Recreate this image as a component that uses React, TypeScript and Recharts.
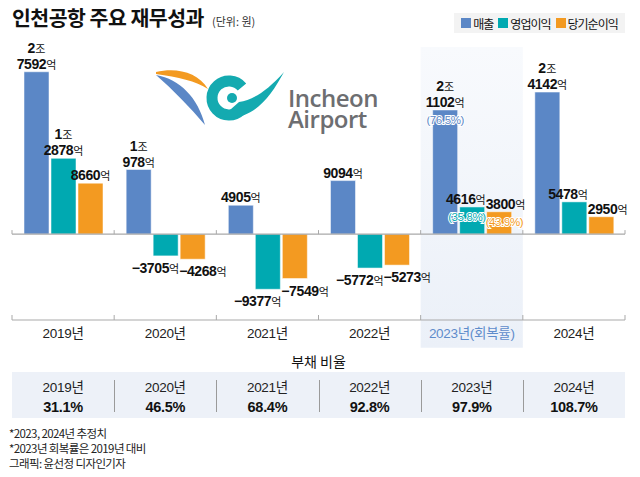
import { BarChart, Bar, XAxis, YAxis, ReferenceLine, ReferenceArea, LabelList } from 'recharts';

// 단위: 억원
const categories = ['2019년', '2020년', '2021년', '2022년', '2023년(회복률)', '2024년'];
const revenue = [27592, 10978, 4905, 9094, 21102, 24142];
const operatingProfit = [12878, -3705, -9377, -5772, 4616, 5478];
const netIncome = [8660, -4268, -7549, -5273, 3800, 2950];
// 2019년 대비 회복률 (%)
const revenueRecovery = [null, null, null, null, 76.5, null];
const operatingRecovery = [null, null, null, null, 35.8, null];
const netRecovery = [null, null, null, null, 43.9, null];

const debtYears = ['2019년', '2020년', '2021년', '2022년', '2023년', '2024년'];
const debtRatio = [31.1, 46.5, 68.4, 92.8, 97.9, 108.7];

const footnotes = ['*2023, 2024년 추정치', '*2023년 회복률은 2019년 대비', '그래픽: 윤선정 디자인기자'];

const SERIES = [
  { key: 'revenue', name: '매출', color: '#5B87C6', rates: revenueRecovery },
  { key: 'operating', name: '영업이익', color: '#00A9B1', rates: operatingRecovery },
  { key: 'net', name: '당기순이익', color: '#F39A21', rates: netRecovery },
];

const data = categories.map((year, i) => ({
  year,
  revenue: revenue[i],
  operating: operatingProfit[i],
  net: netIncome[i],
}));

const Y_MIN = -14600;
const Y_MAX = 30000;
const PLOT_TOP = 57.6;
const PLOT_BOTTOM = 320;
const ZERO_Y = PLOT_TOP + (Y_MAX / (Y_MAX - Y_MIN)) * (PLOT_BOTTOM - PLOT_TOP);

const NUM_FONT = "'Liberation Sans', Arial, 'Noto Sans CJK KR', sans-serif";
const KR_FONT = "'Noto Sans CJK KR', sans-serif";
const AXIS = '#a9a9a9';

// 영업이익/당기순이익 라벨이 겹치면 좌우로 벌린다
function splitLabels(i: number) {
  return Math.abs(operatingProfit[i] - netIncome[i]) < 3500;
}

function renderValueLabel(seriesIdx: number) {
  return (props: any) => {
    const vb = props.viewBox ?? props;
    const x = vb.x ?? props.x;
    const y = vb.y ?? props.y;
    const width = vb.width ?? props.width;
    const height = vb.height ?? props.height;
    const { value, index } = props;
    if (value == null) return null;
    const top = Math.min(y, y + height);
    const bottom = Math.max(y, y + height);
    const s = SERIES[seriesIdx];

    let anchor: 'middle' | 'end' | 'start' = 'middle';
    let tx = x + width / 2;
    if (seriesIdx > 0 && splitLabels(index)) {
      if (seriesIdx === 1) {
        anchor = 'end';
        tx = x + width + 1;
      } else {
        anchor = 'start';
        tx = x - 1;
      }
    }

    const neg = value < 0;
    const abs = Math.abs(value);
    const jo = Math.floor(abs / 10000);
    const eok = abs % 10000;
    const base = neg ? bottom + 17 : top - 3;
    const rate = s.rates[index];

    return (
      <g>
        {jo > 0 && (
          <text x={tx} y={base - 16} textAnchor={anchor} fill="#111">
            <tspan fontFamily={NUM_FONT} fontWeight={700} fontSize={14}>{jo}</tspan>
            <tspan fontFamily={KR_FONT} fontSize={11}>조</tspan>
          </text>
        )}
        <text x={tx} y={base} textAnchor={anchor} fill="#111">
          <tspan fontFamily={NUM_FONT} fontWeight={700} fontSize={14} letterSpacing={-0.4}>
            {neg ? '\u2212' : ''}
            {eok}
          </tspan>
          <tspan fontFamily={KR_FONT} fontSize={11}>억</tspan>
        </text>
        {rate != null && (
          <text
            x={tx}
            y={top + 14}
            textAnchor={anchor}
            fontFamily={NUM_FONT}
            fontSize={11.5}
            fill={s.color}
            stroke="#fff"
            strokeWidth={2}
            paintOrder="stroke"
            letterSpacing={-0.4}
          >
            ({rate}%)
          </text>
        )}
      </g>
    );
  };
}

function YearTick(props: any) {
  const { x, y, payload, index } = props;
  const half = payload?.offset ?? 51.1;
  const left = x - half;
  const right = x + half;
  const last = index === categories.length - 1;
  const highlight = index === 4;
  return (
    <g>
      <line x1={left} x2={left} y1={y - 5} y2={y} stroke={AXIS} />
      <line x1={left} x2={left} y1={ZERO_Y - 4} y2={ZERO_Y} stroke={AXIS} />
      {last && <line x1={right} x2={right} y1={y - 5} y2={y} stroke={AXIS} />}
      {last && <line x1={right} x2={right} y1={ZERO_Y - 4} y2={ZERO_Y} stroke={AXIS} />}
      <text
        x={x}
        y={y + 18}
        textAnchor="middle"
        fontFamily={NUM_FONT}
        fontSize={13.5}
        letterSpacing={-0.3}
        fill={highlight ? '#5F8CCB' : '#222'}
      >
        {payload.value}
      </text>
    </g>
  );
}

function Logo() {
  return (
    <>
      <svg width={150} height={80} style={{ position: 'absolute', left: 140, top: 60 }}>
        <path d="M16,12 C36,7 58,12 68,29 C56,21 38,17 16,14 Z" fill="#F39A21" />
        <path d="M16,15 C40,19 58,38 65,65 C50,47 33,30 16,15 Z" fill="#5B87C6" />
        <path d="M102,27 A17,17 0 1 0 101,50" fill="none" stroke="#14AAB0" strokeWidth={11} />
        <path d="M82,57 C112,62 130,38 144,12 C127,31 113,40 99,42 Z" fill="#14AAB0" />
        <circle cx={92} cy={38} r={5} fill="#14AAB0" />
      </svg>
      <div
        style={{
          position: 'absolute',
          left: 288,
          top: 87,
          fontFamily: "'Open Sans', sans-serif",
          fontWeight: 600,
          fontSize: 24,
          lineHeight: '21px',
          letterSpacing: -0.5,
          color: '#6D6E71',
          whiteSpace: 'pre-line',
        }}
      >
        {'Incheon\nAirport'}
      </div>
    </>
  );
}

export default function App() {
  return (
    <div
      style={{
        position: 'absolute',
        left: 0,
        top: 0,
        width: 640,
        height: 477,
        background: '#fff',
        overflow: 'hidden',
        fontFamily: KR_FONT,
        color: '#111',
      }}
    >
      <div style={{ position: 'absolute', left: 12, top: 3, lineHeight: '28px', whiteSpace: 'nowrap' }}>
        <span style={{ fontSize: 20.5, fontWeight: 700, letterSpacing: -0.5 }}>인천공항 주요 재무성과</span>
        <span style={{ fontSize: 11, marginLeft: 8, color: '#333' }}>(단위: 원)</span>
      </div>

      <div
        style={{
          position: 'absolute',
          left: 454,
          top: 13,
          width: 171,
          height: 20,
          background: '#F3F3F3',
          display: 'flex',
          alignItems: 'center',
          justifyContent: 'center',
          gap: 5,
          fontSize: 12,
          letterSpacing: -1,
        }}
      >
        {SERIES.map((s) => (
          <span key={s.key} style={{ display: 'flex', alignItems: 'center', gap: 2 }}>
            <span style={{ width: 10, height: 10, background: s.color, display: 'inline-block' }} />
            {s.name}
          </span>
        ))}
      </div>

      <div style={{ position: 'absolute', left: 0, top: 0 }}>
        <BarChart
          width={640}
          height={360}
          data={data}
          margin={{ top: PLOT_TOP, right: 15, left: 12, bottom: 10 }}
          barGap={2}
        >
          <defs>
            <linearGradient id="hl" x1="0" y1="0" x2="0" y2="1">
              <stop offset="0%" stopColor="#F8FAFD" />
              <stop offset="100%" stopColor="#EBF0F8" />
            </linearGradient>
          </defs>
          <ReferenceArea
            x1={categories[4]}
            x2={categories[4]}
            y1={-19300}
            y2={31800}
            fill="url(#hl)"
            fillOpacity={1}
            stroke="none"
            ifOverflow="visible"
          />
          <XAxis
            dataKey="year"
            interval={0}
            axisLine={{ stroke: AXIS, strokeWidth: 1.2 }}
            tickLine={false}
            tickSize={0}
            tickMargin={0}
            height={30}
            tick={YearTick}
          />
          <YAxis hide type="number" domain={[Y_MIN, Y_MAX]} />
          <ReferenceLine y={0} stroke={AXIS} strokeWidth={1.2} />
          {SERIES.map((s, i) => (
            <Bar
              key={s.key}
              dataKey={s.key}
              name={s.name}
              fill={s.color}
              barSize={25}
              stroke="#ffffff"
              strokeOpacity={0.5}
              isAnimationActive={false}
            >
              <LabelList dataKey={s.key} content={renderValueLabel(i)} />
            </Bar>
          ))}
        </BarChart>
      </div>

      <Logo />

      <div style={{ position: 'absolute', left: 12, top: 352, width: 613, textAlign: 'center', fontSize: 14, lineHeight: '18px' }}>
        부채 비율
      </div>

      <div
        style={{
          position: 'absolute',
          left: 12,
          top: 372,
          width: 613,
          height: 46,
          background: '#EDF1F8',
          display: 'flex',
        }}
      >
        {debtYears.map((yr, i) => (
          <div key={yr} style={{ flex: 1, position: 'relative', textAlign: 'center', paddingTop: 8 }}>
            {i > 0 && (
              <div style={{ position: 'absolute', left: 0, top: 8, width: 1, height: 32, background: '#9a9a9a' }} />
            )}
            <div style={{ fontFamily: NUM_FONT, fontSize: 13.5, lineHeight: '16px', letterSpacing: -0.3, color: '#222' }}>{yr}</div>
            <div style={{ fontFamily: NUM_FONT, fontSize: 14.5, fontWeight: 700, lineHeight: '18px', marginTop: 2, letterSpacing: -0.3 }}>
              {debtRatio[i]}%
            </div>
          </div>
        ))}
      </div>

      <div style={{ position: 'absolute', left: 9, top: 425.5, fontSize: 11.5, lineHeight: '15px', letterSpacing: -0.6, color: '#222' }}>
        {footnotes.map((f) => (
          <div key={f}>{f}</div>
        ))}
      </div>
    </div>
  );
}
